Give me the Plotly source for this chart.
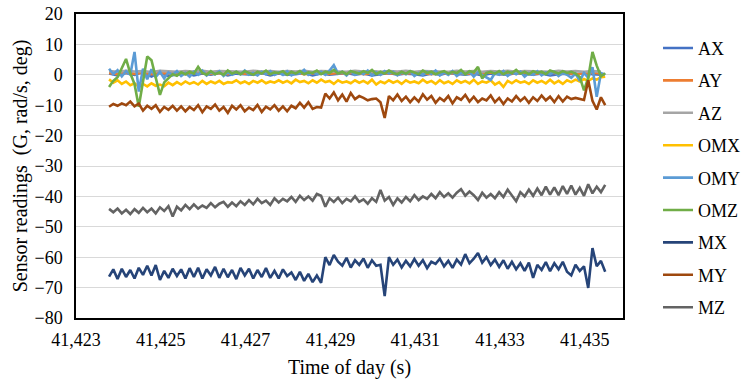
import plotly.graph_objects as go

# ---- sampling grids (seconds of day) ----
T0 = 41423.78
DT_FAST = 0.1   # IMU gyro / magnetometer samples
DT_ACC = 0.2    # accelerometer samples

# ---- accelerometer (G) ----
AX = [0.4, -0.2, 0.6, 0.0, 1.0, -0.6, 0.8, -0.4, 0.2, 0.6, -0.2, 0.4, 0.0, 0.6, -0.2, 0.4, 0.2, 0.0, 0.6, -0.2,
      0.4, 0.0, 0.2, 0.6, -0.2, 0.4, 0.0, 0.2, 0.6, 0.0, 0.4, -0.2, 0.2, 0.6, 0.0, 0.4, 0.2, -0.2, 0.4, 0.0,
      0.6, 0.2, 0.0, 0.4, -0.2, 0.4, 0.2, 0.0, 0.6, 0.2, 0.0, 0.4, -0.2, 0.2, 0.4, 0.0, 0.6, 0.2, 0.0]
AY = [0.6, 0.2, 0.8, 0.3, 0.7, 0.2, 0.6, 0.4, 0.8, 0.2, 0.5, 0.7, 0.3, 0.6, 0.2, 0.8, 0.4, 0.5, 0.7, 0.3,
      0.6, 0.4, 0.8, 0.2, 0.5, 0.7, 0.3, 0.6, 0.4, 0.8, 0.2, 0.5, 0.7, 0.4, 0.6, 0.3, 0.8, 0.5, 0.2, 0.6,
      0.4, 0.7, 0.3, 0.6, 0.5, 0.8, 0.2, 0.6, 0.4, 0.7, 0.3, 0.5, 0.8, 0.4, 0.6, 0.2, 0.5, 0.7, 0.4]
AZ = [1.2, 1.0, 1.3, 1.1, 1.2, 0.9, 1.3, 1.1, 1.0, 1.2, 1.1, 1.3, 1.0, 1.2, 1.1, 1.2, 1.0, 1.3, 1.1, 1.2,
      1.0, 1.2, 1.1, 1.3, 1.0, 1.2, 1.1, 1.2, 1.0, 1.3, 1.1, 1.2, 1.0, 1.2, 1.1, 1.3, 1.0, 1.2, 1.1, 1.2,
      1.0, 1.3, 1.1, 1.2, 1.0, 1.2, 1.1, 1.3, 1.0, 1.2, 1.1, 1.2, 1.0, 1.3, 1.1, 1.2, 1.0, 1.2, 1.1]

# ---- gyroscope (rad/s) ----
OMX = [-1.5, -2.6, -1.8, -3.0, -2.2, -3.4, -2.8, -3.9, -3.0, -3.8,
       -2.8, -3.6, -3.2, -3.8, -2.6, -3.4, -2.4, -3.2, -2.2, -3.0,
       -2.4, -3.2, -2.0, -3.0, -2.2, -2.8, -2.0, -3.0, -2.4, -2.6,
       -1.8, -2.8, -2.2, -3.0, -2.0, -2.6, -1.8, -2.8, -2.2, -2.6,
       -1.8, -2.6, -2.0, -2.8, -1.6, -2.4, -2.0, -2.8, -1.8, -2.6,
       -1.6, -2.4, -2.0, -3.0, -1.8, -2.6, -2.2, -2.8, -1.8, -2.6,
       -2.0, -2.8, -1.6, -3.2, -2.2, -2.8, -1.8, -2.6, -2.0, -3.0,
       -1.8, -2.6, -2.2, -2.8, -1.6, -2.6, -2.0, -3.0, -1.8, -2.8,
       -2.2, -3.0, -1.8, -2.6, -2.0, -2.8, -1.6, -3.0, -2.2, -2.6,
       -1.8, -3.2, -2.4, -4.0, -2.0, -2.8, -1.8, -2.6, -2.2, -3.0,
       -1.8, -2.6, -2.0, -2.8, -1.6, -2.8, -2.0, -3.0, -1.8, -2.4,
       -1.6, -2.2, -1.4, -2.0, -1.2, -1.6, -0.8, -0.6]
OMY = [2.0, 0.2, 1.5, -0.5, 1.2, 0.0, 7.5, -5.5, 2.0, -1.5,
       1.8, -0.8, 1.0, -1.2, 0.8, 0.0, 1.2, -0.4, 0.6, -0.6,
       1.0, 0.0, 1.4, -0.2, 0.8, 0.2, 1.2, -0.4, 0.8, 0.0,
       1.0, 0.2, 1.4, 0.0, 0.6, -0.2, 1.0, 0.2, 1.2, 0.0,
       0.8, 0.0, 1.2, -0.2, 0.6, 0.4, 1.6, 0.0, 0.8, 0.2,
       1.0, 0.0, 1.4, 3.2, 0.4, 1.0, -0.2, 1.2, 0.0, 0.8,
       0.2, 1.4, -0.2, 0.8, 0.0, 1.2, 0.4, 1.0, -0.2, 0.8,
       0.2, 1.2, -0.4, 0.6, 0.0, 1.0, 0.2, 1.4, -0.2, 0.8,
       0.0, 1.2, -0.4, 0.6, 0.2, 1.0, -0.6, 0.8, 0.0, -1.0,
       -1.7, 0.6, 0.0, 1.2, -0.4, 0.8, 0.2, 1.0, -0.6, 0.6,
       0.0, 1.2, -0.2, 0.8, 0.2, 1.0, -0.4, 0.6, 0.0, -1.0,
       0.4, -2.0, 0.6, -1.0, 2.5, -7.2, 0.6, 0.0]
OMZ = [-4.0, -2.0, -0.8, 2.5, 5.2, 0.5, -3.0, -10.5, -2.0, 6.0,
       4.8, -1.0, -6.6, -2.5, -1.0, 0.2, -0.3, 0.8, 0.2, 1.0,
       0.4, 2.6, 0.6, 0.0, 1.2, 0.2, 0.8, 0.0, 1.4, 0.4,
       1.0, 0.2, 1.2, 0.6, 0.0, 1.0, 0.4, 1.4, 0.2, 0.8,
       0.6, 1.2, 0.0, 1.0, 0.4, 1.2, 0.2, 0.8, 0.6, 1.4,
       0.2, 1.0, 0.6, 1.6, 0.4, 1.0, 0.2, 1.2, 0.8, 0.4,
       1.2, 0.6, 1.6, 0.2, 1.0, 0.4, 1.4, 0.6, 0.2, 1.0,
       0.4, 1.2, 0.8, 0.2, 1.4, 0.6, 1.0, 0.2, 0.8, 1.2,
       0.4, 1.0, 0.6, 1.6, 0.2, 1.2, 0.8, 2.6, -1.2, 0.6,
       1.0, 0.4, 1.2, 0.2, 1.0, 0.6, 1.6, 0.4, 1.0, 0.2,
       1.2, 0.6, 1.0, 0.2, 1.4, 0.8, 0.4, 1.2, 0.6, 1.0,
       0.4, -0.7, -5.1, -1.0, 7.5, 3.0, -0.5, 0.5]

# ---- magnetometer (deg) ----
MX = [-66.4, -64.0, -67.2, -63.8, -66.5, -64.2, -67.0, -63.5, -65.8, -62.8,
      -66.0, -62.6, -67.5, -64.5, -66.8, -63.8, -66.2, -64.0, -67.0, -63.6,
      -66.5, -63.5, -67.0, -64.0, -66.0, -63.2, -66.8, -63.8, -66.6, -64.2,
      -67.2, -63.5, -66.0, -63.8, -67.0, -64.2, -66.5, -63.6, -66.8, -64.5,
      -67.0, -64.0, -66.2, -65.0, -67.5, -64.8, -67.8, -65.5, -68.2, -66.0,
      -68.4, -60.0, -62.6, -59.3, -61.5, -62.8, -60.2, -63.4, -61.0, -62.5,
      -60.4, -63.5, -61.0, -62.8, -62.5, -72.8, -60.0, -62.5, -60.8, -63.4,
      -61.2, -63.0, -60.6, -62.8, -61.0, -63.6, -61.5, -62.2, -60.5, -63.0,
      -61.2, -63.5, -60.8, -62.4, -59.0, -62.0, -60.5, -58.6, -61.8, -60.0,
      -62.6, -60.8, -63.2, -61.0, -63.8, -61.5, -64.0, -62.0, -64.5, -61.8,
      -66.8, -62.5, -64.2, -61.6, -64.6, -62.0, -64.0, -61.5, -64.8, -66.0,
      -62.5, -64.5, -63.0, -70.1, -57.0, -63.0, -61.2, -64.8]
MY = [-10.5, -9.6, -10.2, -9.4, -10.0, -8.8, -10.4, -9.5, -11.8, -10.2,
      -11.2, -10.0, -12.2, -10.6, -11.5, -10.2, -11.8, -10.4, -12.0, -10.6,
      -11.6, -10.0, -12.3, -10.4, -11.2, -9.8, -11.8, -10.6, -12.5, -10.2,
      -11.4, -10.0, -12.0, -10.8, -11.6, -9.9, -12.2, -10.5, -11.4, -10.0,
      -11.8, -10.4, -12.0, -10.2, -11.0, -9.2, -10.8, -9.0, -11.2, -10.6,
      -10.8, -6.2, -7.8, -5.8, -8.4, -6.5, -8.8, -6.0, -8.0, -7.0,
      -7.6, -8.4, -8.0, -7.8, -9.0, -14.2, -7.0, -8.4, -6.5, -8.6,
      -7.2, -9.0, -7.4, -8.8, -6.4, -8.2, -7.0, -9.2, -7.6, -8.6,
      -7.0, -9.4, -7.4, -8.2, -6.6, -8.8, -7.2, -9.0, -7.8, -8.4,
      -6.8, -9.0, -7.6, -9.6, -7.8, -8.8, -7.0, -8.6, -7.4, -9.2,
      -7.4, -8.6, -6.8, -8.4, -7.2, -9.0, -7.0, -8.8, -7.2, -8.0,
      -7.6, -8.0, -8.3, -1.8, -8.6, -11.4, -7.4, -10.0]
MZ = [-44.1, -45.2, -44.0, -45.6, -44.4, -45.8, -44.2, -45.4, -43.8, -45.2,
      -44.0, -45.6, -43.6, -44.8, -43.2, -46.6, -43.4, -44.6, -42.8, -44.2,
      -42.6, -44.0, -43.0, -43.8, -42.2, -43.6, -42.4, -41.8, -43.4, -42.0,
      -43.2, -41.6, -42.8, -41.2, -42.6, -40.8, -42.2, -41.4, -42.8, -40.6,
      -42.0, -40.8, -41.6, -40.2, -41.8, -39.8, -41.2, -40.0, -41.4, -39.2,
      -39.8, -43.4, -40.6, -41.8, -40.4, -42.2, -40.8, -41.6, -40.0, -41.8,
      -41.0, -42.4, -40.6, -41.8, -37.9, -41.4, -40.2, -42.8, -40.6, -42.0,
      -40.2, -41.6, -39.6, -41.2, -40.0, -40.8, -39.2, -40.6, -38.6, -40.2,
      -39.0, -40.4, -38.8, -37.6, -39.8, -38.4, -39.6, -41.2, -38.8, -40.4,
      -39.2, -40.6, -38.6, -40.2, -37.8, -39.6, -41.6, -38.6, -40.0, -37.8,
      -39.8, -37.4, -39.6, -36.8, -39.4, -37.0, -39.6, -36.6, -39.2, -36.4,
      -39.4, -37.2, -39.8, -36.0, -39.0, -36.8, -38.6, -36.2]

X_TICKS = [41423, 41425, 41427, 41429, 41431, 41433, 41435]
X_TICK_LABELS = ["41,423", "41,425", "41,427", "41,429", "41,431", "41,433", "41,435"]
Y_TICKS = [20, 10, 0, -10, -20, -30, -40, -50, -60, -70, -80]

t_fast = [T0 + i * DT_FAST for i in range(len(MX))]
t_acc = [T0 + i * DT_ACC for i in range(len(AX))]

series = [
    ("AX", t_acc, AX, "#4472C4"),
    ("AY", t_acc, AY, "#ED7D31"),
    ("AZ", t_acc, AZ, "#A5A5A5"),
    ("OMX", t_fast, OMX, "#FFC000"),
    ("OMY", t_fast, OMY, "#5B9BD5"),
    ("OMZ", t_fast, OMZ, "#70AD47"),
    ("MX", t_fast, MX, "#264478"),
    ("MY", t_fast, MY, "#9E480E"),
    ("MZ", t_fast, MZ, "#636363"),
]

FONT = "Liberation Serif"

fig = go.Figure()
for name, tx, vals, col in series:
    fig.add_trace(go.Scatter(
        x=tx, y=vals, mode="lines", name=name, legendgroup=name,
        line=dict(color=col, width=2.6),
    ))

fig.update_layout(
    width=746, height=384,
    margin=dict(l=76, r=123, t=14, b=66, autoexpand=False),
    paper_bgcolor="white", plot_bgcolor="white",
    font=dict(family=FONT, size=18, color="#000000"),
    showlegend=True,
    legend=dict(
        x=1.064, xanchor="left", y=0.948, yanchor="top",
        font=dict(family=FONT, size=18, color="#000000"),
        tracegroupgap=6, bgcolor="rgba(0,0,0,0)",
    ),
    xaxis=dict(
        range=[41423, 41435.9], tickmode="array", tickvals=X_TICKS, ticktext=X_TICK_LABELS,
        showgrid=False, zeroline=False, showline=True, linecolor="#000000", linewidth=1.5,
        mirror=True, ticks="", ticklabelstandoff=5,
        tickfont=dict(family=FONT, size=18, color="#000000"),
        title=dict(text="Time of day (s)", font=dict(family=FONT, size=20, color="#000000"), standoff=11),
    ),
    yaxis=dict(
        range=[-80, 20], tickmode="array", tickvals=Y_TICKS,
        showgrid=True, gridcolor="#D9D9D9", gridwidth=1.3, zeroline=False,
        showline=True, linecolor="#000000", linewidth=1.5, mirror=True, ticks="",
        ticklabelstandoff=8,
        tickfont=dict(family=FONT, size=18, color="#000000"),
        title=dict(text="Sensor readings\u00a0 (G, rad/s, deg)", font=dict(family=FONT, size=20, color="#000000"), standoff=1),
    ),
)

fig.write_html("out.html", config={"displayModeBar": False},
               post_script="document.body.style.margin='0';")
